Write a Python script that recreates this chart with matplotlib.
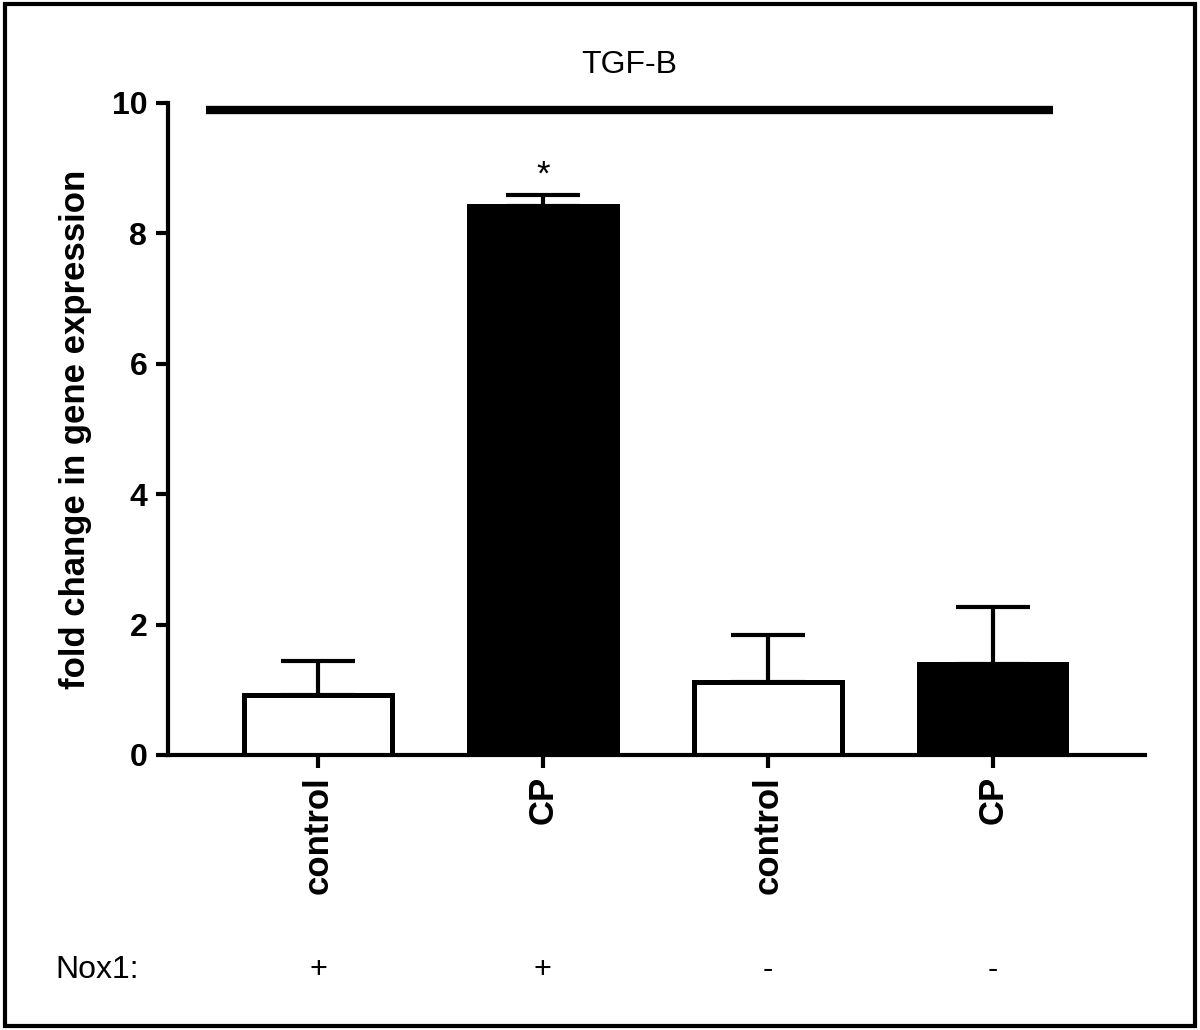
import matplotlib
matplotlib.use("Agg")
import matplotlib.pyplot as plt
from matplotlib.patches import Rectangle
from matplotlib.transforms import blended_transform_factory

categories = ["control", "CP", "control", "CP"]
means = [0.92, 8.42, 1.12, 1.40]
errors = [0.52, 0.17, 0.72, 0.87]
fills = ["white", "black", "white", "black"]
nox1 = ["+", "+", "-", "-"]
yticks = [0, 2, 4, 6, 8, 10]
title = "TGF-B"
ylabel = "fold change in gene expression"

plt.rcParams['font.family'] = ['Liberation Sans', 'DejaVu Sans']

fig = plt.figure(figsize=(12, 10.3), dpi=100)
ax = fig.add_axes([0.14, 0.267, 0.814, 0.633])

x = list(range(len(categories)))
ax.bar(x, means, width=0.655, color=fills, edgecolor="black", linewidth=3.6, zorder=2)
ax.errorbar(x, means, yerr=[[0] * len(errors), errors], fmt="none", ecolor="black",
            elinewidth=3.0, capsize=26.5, capthick=3.0, zorder=1)

ax.set_xlim(-0.667, 3.676)
ax.set_ylim(0, 10)
ax.set_yticks(yticks)
ax.set_yticklabels([str(v) for v in yticks], fontsize=23, fontweight="bold")
ax.set_xticks(x)
ax.set_xticklabels(categories, rotation=90, fontsize=25, fontweight="bold")
for s in ["top", "right"]:
    ax.spines[s].set_visible(False)
ax.spines["left"].set_linewidth(3.0)
ax.spines["bottom"].set_linewidth(3.0)
ax.tick_params(axis="both", width=3.0, length=9, pad=6)
ax.set_ylabel(ylabel, fontsize=25, fontweight="bold", labelpad=14)

# significance line and title
ax.plot([-0.50, 3.27], [9.90, 9.90], color="black", linewidth=6, clip_on=False,
        solid_capstyle="butt")
tr = blended_transform_factory(ax.transData, fig.transFigure)
ax.text(1.385, 1 - 65 / 1030, title, transform=tr, ha="center", va="center", fontsize=23)
ax.text(1, 8.90, "*", ha="center", va="center", fontsize=25)

# Nox1 row
row_y = 1 - 970 / 1030
fig.text(0.046, row_y, "Nox1:", ha="left", va="center", fontsize=23)
for xi, s in zip(x, nox1):
    ax.text(xi, row_y, s, transform=tr, ha="center", va="center", fontsize=22)

# figure border
fig.patches.append(Rectangle((0.004, 0.004), 0.992, 0.992, transform=fig.transFigure,
                             fill=False, edgecolor="black", linewidth=3))

fig.savefig("out.png", dpi=100)
